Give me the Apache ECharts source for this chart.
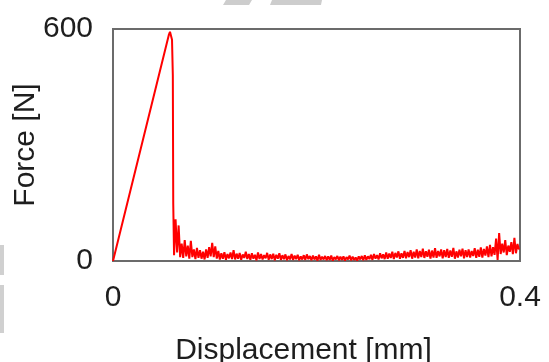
<!DOCTYPE html>
<html>
<head>
<meta charset="utf-8">
<script src="https://cdn.jsdelivr.net/npm/echarts@6/dist/echarts.min.js"></script>
<style>
  html, body { margin: 0; padding: 0; background: #ffffff; }
  #chart { width: 549px; height: 362px; }
</style>
</head>
<body>
<div id="chart"></div>
<script>
// Loading ramp up to fracture (displacement in mm, force in N)
const rampDisplacement = [0, 0.0548, 0.0560, 0.0570, 0.0580, 0.0588, 0.0592];
const rampForce        = [0, 584,    593,    590,    572,    480,    150];

// Post-fracture friction signal, sampled every 0.0015 mm from 0.060 mm
const noiseStart = 0.060;
const noiseStep = 0.0015;
const noiseForce = [
  15, 108, 22, 92, 10, 45, 8, 54, 12, 40,
  6, 52, 10, 30, 5, 34, 8, 28, 6, 24,
  4, 30, 8, 36, 12, 47, 10, 38, 6, 26,
  4, 20, 6, 23, 3, 18, 7, 22, 5, 28,
  4, 19, 6, 21, 3, 17, 8, 24, 5, 18,
  3, 20, 6, 16, 2, 22, 5, 18, 4, 15,
  7, 21, 3, 17, 5, 19, 2, 16, 6, 20,
  3, 15, 5, 17, 2, 13, 4, 18, 3, 14,
  5, 16, 2, 12, 4, 15, 3, 17, 5, 13,
  2, 14, 4, 12, 1, 16, 3, 11, 4, 13,
  2, 12, 3, 14, 1, 10, 4, 13, 2, 11,
  3, 12, 1, 10, 4, 14, 2, 11, 3, 9,
  1, 12, 4, 13, 2, 15, 3, 12, 5, 16,
  3, 18, 6, 15, 4, 20, 7, 17, 5, 22,
  6, 19, 8, 24, 5, 21, 9, 25, 6, 20,
  8, 26, 7, 23, 10, 28, 6, 24, 9, 30,
  7, 26, 10, 32, 8, 25, 11, 29, 6, 27,
  9, 33, 8, 26, 12, 30, 7, 28, 10, 31,
  8, 27, 11, 34, 6, 25, 9, 29, 12, 32,
  7, 28, 10, 30, 9, 26, 13, 33, 8, 29,
  11, 35, 9, 31, 14, 38, 10, 42, 12, 36,
  16, 58, 3, 72, 18, 45, 22, 54, 15, 40,
  24, 49, 18, 60, 20, 44, 30
];

// Axis ranges and titles
const xRange = [0, 0.4];
const yRange = [0, 600];
const xTitle = 'Displacement [mm]';
const yTitle = 'Force [N]';

const curve = [];
for (let i = 0; i < rampDisplacement.length; i++) {
  curve.push([rampDisplacement[i], rampForce[i]]);
}
for (let i = 0; i < noiseForce.length; i++) {
  curve.push([+(noiseStart + i * noiseStep).toFixed(4), noiseForce[i]]);
}

const FONT = "'Liberation Sans', Arial, sans-serif";
const FS = 30;
const textColor = '#1e1e1e';
const frameColor = '#6b6b6b';

const chart = echarts.init(document.getElementById('chart'), null, { renderer: 'canvas' });
chart.setOption({
  animation: false,
  backgroundColor: '#ffffff',
  grid: {
    left: 113, right: 29, top: 29, bottom: 101,
    outerBoundsMode: 'none',
    containLabel: false,
    show: true, borderColor: frameColor, borderWidth: 2, backgroundColor: 'transparent'
  },
  xAxis: {
    type: 'value',
    min: xRange[0], max: xRange[1], interval: 0.4,
    name: xTitle, nameLocation: 'middle', nameGap: 75, nameMoveOverlap: false,
    nameTextStyle: { fontFamily: FONT, fontSize: FS, color: textColor, padding: [0, 26, 0, 0] },
    axisLine: { show: true, lineStyle: { color: frameColor, width: 2 } },
    axisTick: { show: false },
    splitLine: { show: false },
    axisLabel: {
      fontFamily: FONT, fontSize: FS, color: textColor, margin: 22,
      formatter: v => (v === 0 ? '0' : String(v))
    }
  },
  yAxis: {
    type: 'value',
    min: yRange[0], max: yRange[1], interval: 600,
    name: yTitle, nameLocation: 'middle', nameGap: 72, nameMoveOverlap: false,
    nameTextStyle: { fontFamily: FONT, fontSize: FS, color: textColor },
    axisLine: { show: true, lineStyle: { color: frameColor, width: 2 } },
    axisTick: { show: false },
    splitLine: { show: false },
    axisLabel: { fontFamily: FONT, fontSize: FS, color: textColor, margin: 20 }
  },
  series: [{
    type: 'line',
    data: curve,
    showSymbol: false,
    clip: true,
    lineStyle: { color: '#ff0000', width: 2 },
    z: 3
  }],
  graphic: [
    { type: 'polygon', shape: { points: [[226, 0], [252, 0], [249, 5], [223, 5]] }, style: { fill: '#cdcdcd' } },
    { type: 'polygon', shape: { points: [[272, 0], [322, 0], [321, 5], [270, 5]] }, style: { fill: '#cdcdcd' } },
    { type: 'rect', shape: { x: 0, y: 245, width: 4, height: 30 }, style: { fill: '#d0d0d0' } },
    { type: 'rect', shape: { x: 0, y: 285, width: 4, height: 48 }, style: { fill: '#d0d0d0' } }
  ]
});
</script>
</body>
</html>
